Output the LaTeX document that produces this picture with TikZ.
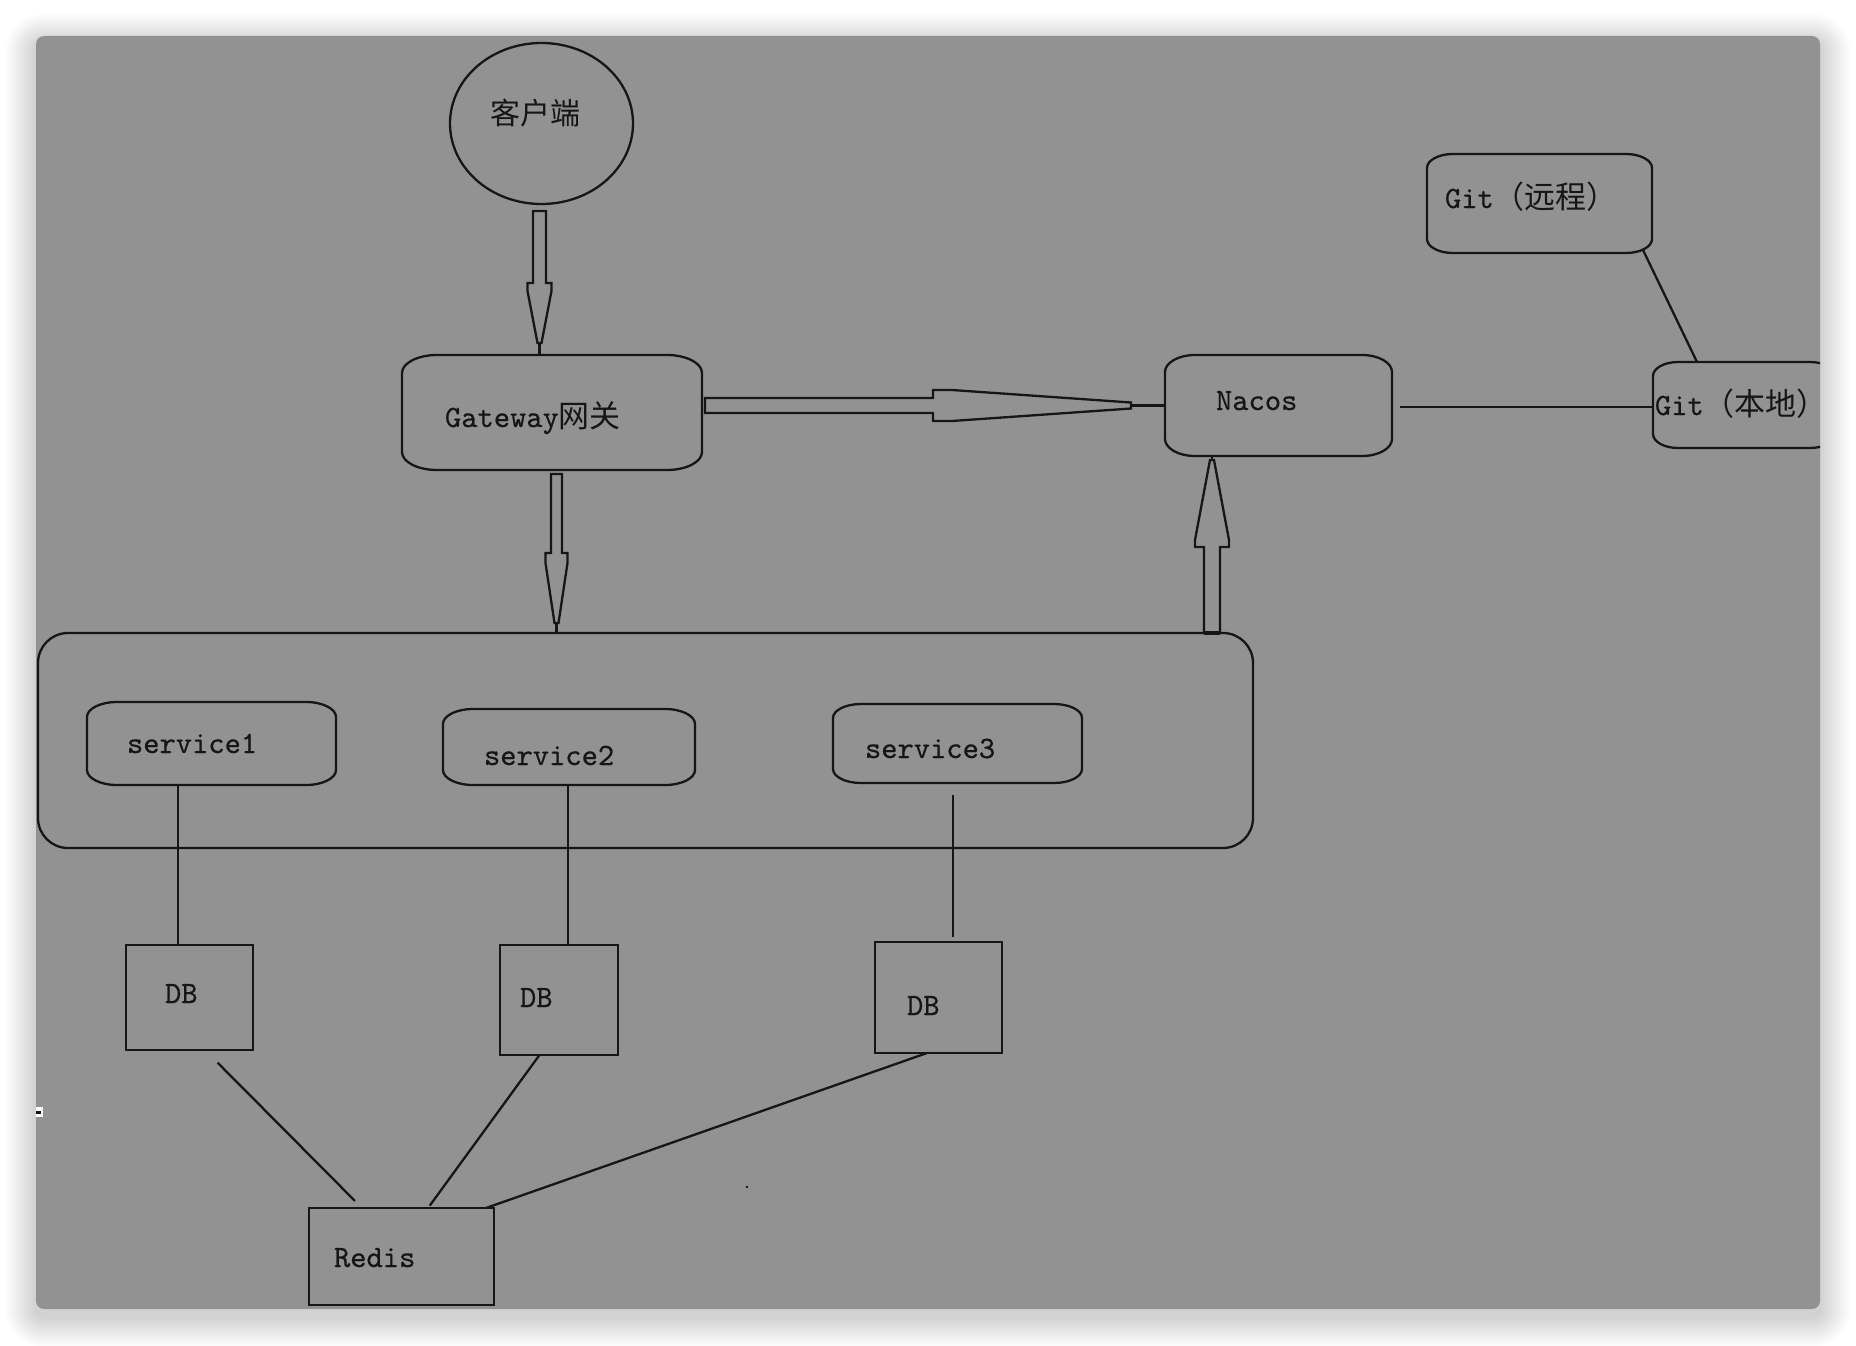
\documentclass[tikz,border=0pt]{standalone}
\usepackage{fontspec}
\newfontfamily\cjk{Noto Sans CJK SC}
\newfontfamily\latm{lmmono10-regular.otf}[FakeBold=0.6]
\usetikzlibrary{calc,shapes.geometric}
\definecolor{canvas}{RGB}{146,146,146}
\definecolor{ink}{RGB}{22,22,22}
\newcommand\myerect[3]{%
  \draw[ln] ($(#1.north west)+(#2,0)$) -- ($(#1.north east)+(-#2,0)$)
    arc[start angle=90,end angle=0,x radius=#2,y radius=#3]
    -- ($(#1.south east)+(0,#3)$)
    arc[start angle=0,end angle=-90,x radius=#2,y radius=#3]
    -- ($(#1.south west)+(#2,0)$)
    arc[start angle=270,end angle=180,x radius=#2,y radius=#3]
    -- ($(#1.north west)+(0,-#3)$)
    arc[start angle=180,end angle=90,x radius=#2,y radius=#3] -- cycle;}
\newcommand\cj[1]{{\cjk\fontsize{31}{36}\selectfont #1}}
\tikzset{
  ln/.style={draw=ink,line width=2.3pt,line join=miter},
  hold/.style={draw=none,inner sep=0pt,outer sep=0pt,rectangle},
  sq/.style={draw=ink,line width=2.3pt,inner sep=0pt,outer sep=0pt,rectangle},
  lat/.style={inner sep=0pt,outer sep=0pt,text=ink,font=\latm\fontsize{31}{36}\selectfont},
  blk/.style={ln,fill=canvas},
}
\begin{document}
\begin{tikzpicture}[x=1pt,y=1pt]
\useasboundingbox (0,0) rectangle (1856,-1346);
\fill[white] (0,0) rectangle (1856,-1346);
% shadow
\foreach \i in {1,...,15}{
  \fill[black,opacity=0.012,rounded corners={8pt+2pt*\i}] ({36-2*\i},{-36+2*\i-8}) rectangle ({1820+2*\i},{-1309-2*\i-8});
}
% canvas
\fill[canvas,rounded corners=8pt] (36,-36) rectangle (1820,-1309);

% client
\node[ellipse,draw=ink,line width=2.3pt,inner sep=0pt,minimum width=183pt,minimum height=161pt] (cl) at (541.5,-123.5) {};
\node[lat,anchor=west] (clT) at (490,-113) {\cjk\fontsize{30}{36}\selectfont 客户端};

% gateway
\node[hold,minimum width=300pt,minimum height=115pt] (gw) at (552,-412.5) {};
\myerect{gw}{35}{18}
\node[lat,anchor=base west] (gwT) at (445,-427) {Gateway\cj{网关}};

% nacos
\node[hold,minimum width=227pt,minimum height=101pt] (nacos) at (1278.5,-405.5) {};
\myerect{nacos}{30}{17}
\node[lat,anchor=base west] (nacosT) at (1216,-410) {Nacos};

% git remote
\node[hold,minimum width=225pt,minimum height=99pt] (gitr) at (1539.5,-203.5) {};
\myerect{gitr}{26}{14}
\node[lat,anchor=base west] (gitrT) at (1445,-208) {Git\cj{（远程）}};

% git local (clipped by canvas)
\begin{scope}
\clip (36,-36) rectangle (1820,-1309);
\node[hold,minimum width=182pt,minimum height=86pt] (gitl) at (1744,-405) {};
\myerect{gitl}{25}{14}
\end{scope}
\node[lat,anchor=base west] (gitlT) at (1655,-415) {Git\cj{（本地）}};

% container
\node[draw=ink,line width=2.3pt,inner sep=0pt,outer sep=0pt,rounded corners=30pt,minimum width=1215pt,minimum height=215pt] (ct) at (645.5,-740.5) {};

% services
\node[hold,minimum width=249pt,minimum height=83pt] (s1) at (211.5,-743.5) {};
\myerect{s1}{30}{15}
\node[lat,anchor=base west] (s1T) at (127,-753) {service1};
\node[hold,minimum width=252pt,minimum height=76pt] (s2) at (569,-747) {};
\myerect{s2}{30}{15}
\node[lat,anchor=base west] (s2T) at (484,-765) {service2};
\node[hold,minimum width=249pt,minimum height=79pt] (s3) at (957.5,-743.5) {};
\myerect{s3}{28}{14}
\node[lat,anchor=base west] (s3T) at (865,-758) {service3};

% DBs
\node[sq,minimum width=127pt,minimum height=105pt] (db1) at (189.5,-997.5) {};
\node[lat,anchor=base west] (db1T) at (165,-1003) {DB};
\node[sq,minimum width=118pt,minimum height=110pt] (db2) at (559,-1000) {};
\node[lat,anchor=base west] (db2T) at (520,-1007) {DB};
\node[sq,minimum width=127pt,minimum height=111pt] (db3) at (938.5,-997.5) {};
\node[lat,anchor=base west] (db3T) at (907,-1015) {DB};

% redis
\node[sq,minimum width=185pt,minimum height=97pt] (redis) at (401.5,-1256.5) {};
\node[lat,anchor=base west] (redisT) at (334,-1267) {Redis};

% service -> DB lines
\draw[ln] (178,0 |- s1.south) -- (178,0 |- db1.north);
\draw[ln] (568,0 |- s2.south) -- (568,0 |- db2.north);
\draw[ln,shorten <=12pt,shorten >=5pt] (953,0 |- s3.south) -- (953,0 |- db3.north);

% DB -> redis lines
\draw[ln,shorten <=18pt,shorten >=10pt] (205,0 |- db1.south) -- (362,0 |- redis.north);
\draw[ln,shorten >=3pt] (539.5,0 |- db2.south) -- (428,0 |- redis.north);
\draw[ln] (927,0 |- db3.south) -- (486,0 |- redis.north);

% nacos -- git local, git remote -- git local
\draw[ln,shorten <=8pt] (nacos.east |- 0,-407) -- (gitl.west |- 0,-407);
\draw[ln] ($(gitr.south east)+(-9,3)$) -- ($(gitl.north west)+(44,0)$);

% block arrow: client -> gateway
\draw[blk] (533,-211) -- (546,-211) -- (546,-283) -- (551.5,-283) -- (551.5,-291) -- (541.5,-343) -- (537.5,-343) -- (527.5,-291) -- (527.5,-283) -- (533,-283) -- cycle;
\draw[ln,line width=3pt] (539.5,-343) -- (539.5,0 |- gw.north);

% block arrow: gateway -> container
\draw[blk] (551,-474) -- (562,-474) -- (562,-553) -- (567.5,-553) -- (567.5,-563) -- (558.5,-623) -- (554.5,-623) -- (545.5,-563) -- (545.5,-553) -- (551,-553) -- cycle;
\draw[ln] (556.5,-623) -- (556.5,0 |- ct.north);

% block arrow: gateway -> nacos
\draw[blk] (705,-398) -- (933,-398) -- (933,-390) -- (952,-390) -- (1131,-402.5) -- (1131,-408.5) -- (952,-421) -- (933,-421) -- (933,-413) -- (705,-413) -- cycle;
\draw[ln,line width=3pt] (1131,-405.5) -- (nacos.west |- 0,-405.5);

% block arrow: container -> nacos
\draw[blk] (1204,-633) -- (1204,-547) -- (1195,-547) -- (1195,-540) -- (1210,-460) -- (1214,-460) -- (1229,-540) -- (1229,-547) -- (1220,-547) -- (1220,-633) -- cycle;
\draw[ln,line width=3.5pt] (1204,-633) -- (1220,-633);
\draw[ln] (1212,-460) -- (1212,0 |- nacos.south);

% stray marks
\fill[ink] (747,-1187) circle (1.3);
\fill[white] (36,-1107) rectangle (43,-1117);
\fill[ink] (36,-1110.5) rectangle (40.5,-1113.5);
\end{tikzpicture}
\end{document}
